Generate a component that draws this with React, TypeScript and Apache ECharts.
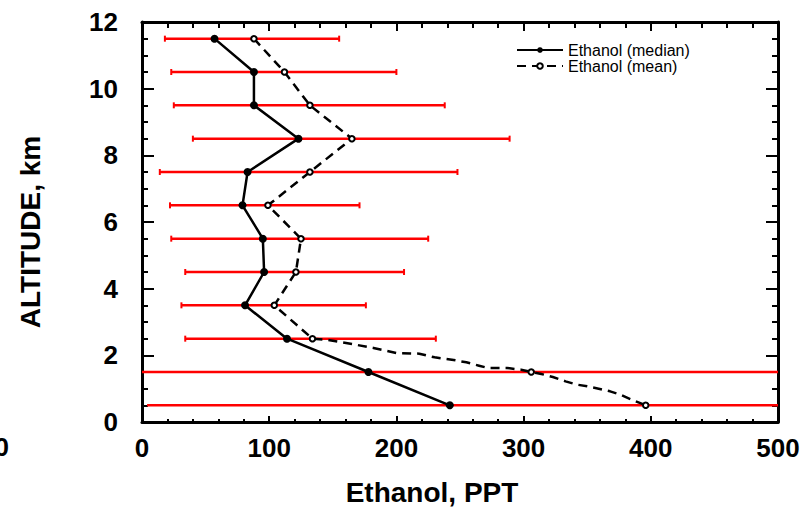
import React, { useEffect, useRef } from "react";
import * as echarts from "echarts";

const altitudes = [11.5, 10.5, 9.5, 8.5, 7.5, 6.5, 5.5, 4.5, 3.5, 2.5, 1.5, 0.5];
const medianValues = [57, 88, 88, 123, 83, 79, 95, 96, 81, 114, 178, 242];
const meanValues = [88, 112, 132, 165, 132, 99, 125, 121, 104, 134, 306, 396];
const lowValues = [18, 23, 25, 40, 14, 22, 23, 34, 31, 34, -20, 4];
const highValues = [155, 200, 238, 289, 248, 171, 225, 206, 176, 231, 560, 560];
// extra vertices of the dashed mean curve
const meanCurveAX = [145, 165, 182, 200, 218, 230, 245, 255, 265, 272, 287, 298];
const meanCurveAY = [2.47, 2.34, 2.22, 2.07, 2.05, 1.94, 1.86, 1.79, 1.69, 1.62, 1.62, 1.57];
const meanCurveBX = [313, 323, 333, 342, 350, 359, 368, 376, 385];
const meanCurveBY = [1.45, 1.35, 1.22, 1.12, 1.07, 1.0, 0.92, 0.82, 0.67];

const FONT = '"Liberation Sans", Arial, Helvetica, sans-serif';

export default function App() {
  const ref = useRef<HTMLDivElement>(null);
  useEffect(() => {
    if (!ref.current) return;
    const chart = echarts.init(ref.current, null, { renderer: "svg" });

    const medianData = altitudes.map((a, i) => [medianValues[i], a]);
    const meanData: any[] = [];
    altitudes.forEach((a, i) => {
      meanData.push([meanValues[i], a]);
      if (a === 2.5) {
        meanCurveAX.forEach((x, j) => meanData.push({ value: [x, meanCurveAY[j]], symbol: "none" }));
      }
      if (a === 1.5) {
        meanCurveBX.forEach((x, j) => meanData.push({ value: [x, meanCurveBY[j]], symbol: "none" }));
      }
    });
    const errData = altitudes.map((a, i) => [lowValues[i], highValues[i], a]);

    const labelStyle = { color: "#000", fontFamily: FONT, fontWeight: "bold" as const, fontSize: 26 };
    const axisLine = { show: true, onZero: false, lineStyle: { color: "#000", width: 3 } };

    chart.setOption({
      animation: false,
      backgroundColor: "#fff",
      grid: { left: 142, top: 22, width: 636, height: 400, containLabel: false },
      legend: {
        orient: "vertical",
        left: 516,
        top: 42,
        padding: 0,
        itemGap: 0,
        itemWidth: 46,
        itemHeight: 7,
        data: ["Ethanol (median)", "Ethanol (mean)"],
        textStyle: { color: "#000", fontFamily: FONT, fontSize: 16, lineHeight: 15 },
      },
      xAxis: [
        {
          type: "value", position: "bottom", min: 0, max: 500, interval: 100,
          axisLine,
          axisTick: { show: true, inside: true, length: 6, lineStyle: { color: "#000", width: 2 } },
          minorTick: { show: true, splitNumber: 5, length: 3, lineStyle: { color: "#000", width: 2 } },
          splitLine: { show: false },
          axisLabel: { ...labelStyle, margin: 13 },
        },
        {
          type: "value", position: "top", min: 0, max: 500, interval: 100,
          axisLine,
          axisTick: { show: true, inside: true, length: 9, lineStyle: { color: "#000", width: 2 } },
          minorTick: { show: true, splitNumber: 5, length: 6, lineStyle: { color: "#000", width: 2 } },
          splitLine: { show: false },
          axisLabel: { show: false },
        },
      ],
      yAxis: [
        {
          type: "value", position: "left", min: 0, max: 12, interval: 2,
          axisLine,
          axisTick: { show: true, inside: true, length: 12, lineStyle: { color: "#000", width: 2 } },
          minorTick: { show: true, splitNumber: 4, length: 6, lineStyle: { color: "#000", width: 2 } },
          splitLine: { show: false },
          axisLabel: { ...labelStyle, margin: 24, padding: [0, 0, 7, 0] },
        },
        {
          type: "value", position: "right", min: 0, max: 12, interval: 2,
          axisLine,
          axisTick: { show: true, inside: true, length: 12, lineStyle: { color: "#000", width: 2 } },
          minorTick: { show: true, splitNumber: 4, length: 6, lineStyle: { color: "#000", width: 2 } },
          splitLine: { show: false },
          axisLabel: { show: false },
        },
      ],
      series: [
        {
          type: "custom",
          name: "range",
          xAxisIndex: 0,
          yAxisIndex: 0,
          clip: true,
          silent: true,
          z: 1,
          data: errData,
          encode: { x: [0, 1], y: 2 },
          renderItem: (params: any, api: any) => {
            const lo = api.value(0);
            const hi = api.value(1);
            const y = api.value(2);
            const p1 = api.coord([lo, y]);
            const p2 = api.coord([hi, y]);
            const st = { stroke: "#ff0000", lineWidth: 2.5 };
            const children: any[] = [
              { type: "line", shape: { x1: p1[0], y1: p1[1], x2: p2[0], y2: p2[1] }, style: st },
            ];
            if (lo >= 10) {
              children.push({ type: "line", shape: { x1: p1[0], y1: p1[1] - 3, x2: p1[0], y2: p1[1] + 3 }, style: { stroke: "#ff0000", lineWidth: 2 } });
            }
            if (hi <= 500) {
              children.push({ type: "line", shape: { x1: p2[0], y1: p2[1] - 3, x2: p2[0], y2: p2[1] + 3 }, style: { stroke: "#ff0000", lineWidth: 2 } });
            }
            return { type: "group", children };
          },
        },
        {
          type: "line",
          name: "Ethanol (median)",
          xAxisIndex: 0,
          yAxisIndex: 0,
          z: 3,
          data: medianData,
          symbol: "circle",
          symbolSize: 8,
          itemStyle: { color: "#000" },
          lineStyle: { color: "#000", width: 2.5 },
        },
        {
          type: "line",
          name: "Ethanol (mean)",
          xAxisIndex: 0,
          yAxisIndex: 0,
          z: 3,
          data: meanData,
          symbol: "emptyCircle",
          symbolSize: 5.5,
          itemStyle: { color: "#000", borderColor: "#000", borderWidth: 2 },
          lineStyle: { color: "#000", width: 2.5, type: [9, 6] },
        },
      ],
      graphic: [
        {
          type: "text", x: 432, y: 492,
          style: { text: "Ethanol, PPT", fill: "#000", font: `bold 28px ${FONT}`, textAlign: "center", textVerticalAlign: "middle" },
        },
        {
          type: "text", x: 30, y: 232, rotation: Math.PI / 2,
          style: { text: "ALTITUDE, km", fill: "#000", font: `bold 28px ${FONT}`, textAlign: "center", textVerticalAlign: "middle" },
        },
        {
          type: "text", x: 9, y: 447,
          style: { text: "0", fill: "#000", font: `bold 26px ${FONT}`, textAlign: "right", textVerticalAlign: "middle" },
        },
      ],
    });
    return () => chart.dispose();
  }, []);
  return <div ref={ref} style={{ position: "fixed", left: 0, top: 0, width: 811, height: 510 }} />;
}
